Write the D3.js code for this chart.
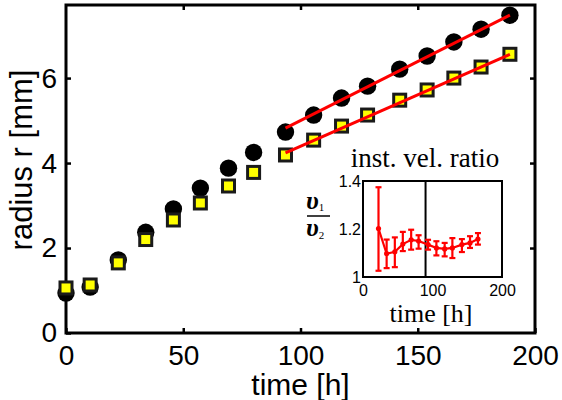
<!DOCTYPE html>
<html>
<head>
<meta charset="utf-8">
<script src="https://cdn.jsdelivr.net/npm/d3@7"></script>
<style>
body { margin: 0; background: #fff; }
svg { display: block; }
</style>
</head>
<body>
<script>
// growth data
var timeH = [0, 10.3, 22.3, 34, 45.8, 57.3, 69.3, 80, 93.6, 105.6, 117.5, 128.6, 142.3, 154, 165.4, 177, 189.3];
var radiusCircle = [0.94, 1.08, 1.72, 2.37, 2.92, 3.41, 3.88, 4.25, 4.73, 5.13, 5.53, 5.81, 6.21, 6.52, 6.85, 7.15, 7.48];
var radiusSquare = [1.06, 1.13, 1.65, 2.2, 2.66, 3.06, 3.46, 3.78, 4.19, 4.54, 4.87, 5.13, 5.48, 5.72, 6.0, 6.26, 6.56];

// linear fits (end points)
var fitTime = [93.6, 189.3];
var fitCircle = [4.82, 7.48];
var fitSquare = [4.24, 6.56];

// inset: instantaneous velocity ratio
var ratioTime = [22.3, 34, 45.8, 57.3, 69.3, 80, 93.6, 105.6, 117.5, 128.6, 142.3, 154, 165.4];
var ratio = [1.202, 1.097, 1.105, 1.137, 1.155, 1.150, 1.135, 1.121, 1.117, 1.121, 1.135, 1.142, 1.158];
var ratioHi = [1.374, 1.156, 1.165, 1.188, 1.197, 1.174, 1.155, 1.149, 1.142, 1.162, 1.158, 1.170, 1.183];
var ratioLo = [1.026, 1.037, 1.041, 1.108, 1.114, 1.118, 1.114, 1.090, 1.086, 1.079, 1.104, 1.121, 1.135];
var insetMarkT = 90;

// ticks
var xTicks = [0, 50, 100, 150, 200];
var yTicks = [0, 2, 4, 6];
var insetXTicks = [0, 100, 200];
var insetYTicks = [1, 1.2, 1.4];

var w = 562, h = 400;
var sans = "'Liberation Sans', Arial, sans-serif";
var serif = "'Liberation Serif', 'Times New Roman', serif";

var svg = d3.select("body").append("svg")
	.attr("width", w)
	.attr("height", h)
	.style("background", "#fff");

// main scales
var x = d3.scaleLinear().domain([0, 200]).range([66, 535]);
var y = d3.scaleLinear().domain([0, 7.72]).range([333, 5]);

// axes, ticks pointing inward
var xAxis = svg.append("g")
	.attr("transform", "translate(0," + y(0) + ")")
	.call(d3.axisBottom(x).tickValues(xTicks).tickSizeInner(-5).tickSizeOuter(0).tickPadding(12));
var xTop = svg.append("g")
	.attr("transform", "translate(0," + y(7.72) + ")")
	.call(d3.axisTop(x).tickValues([50, 100, 150]).tickSizeInner(-5).tickSizeOuter(0).tickFormat(""));
var yAxis = svg.append("g")
	.attr("transform", "translate(" + x(0) + ",0)")
	.call(d3.axisLeft(y).tickValues(yTicks).tickSizeInner(-5).tickSizeOuter(0).tickPadding(9));
var yRight = svg.append("g")
	.attr("transform", "translate(" + x(200) + ",0)")
	.call(d3.axisRight(y).tickValues([2, 4, 6]).tickSizeInner(-5).tickSizeOuter(0).tickFormat(""));

svg.selectAll(".domain").remove();
svg.selectAll(".tick line").attr("stroke", "#000").attr("stroke-width", 2.5);
svg.selectAll(".tick text")
	.attr("fill", "#000")
	.style("font-family", sans)
	.style("font-size", "28px");

// box round the plot
svg.append("rect")
	.attr("x", x(0))
	.attr("y", y(7.72))
	.attr("width", x(200) - x(0))
	.attr("height", y(0) - y(7.72))
	.attr("fill", "none")
	.attr("stroke", "#000")
	.attr("stroke-width", 3);

// axis labels
svg.append("text")
	.attr("x", (x(0) + x(200)) / 2)
	.attr("y", 395)
	.attr("text-anchor", "middle")
	.style("font-family", sans)
	.style("font-size", "30px")
	.text("time [h]");

svg.append("text")
	.attr("transform", "translate(32," + 160 + ") rotate(-90)")
	.attr("text-anchor", "middle")
	.style("font-family", sans)
	.style("font-size", "31px")
	.text("radius r [mm]");

// black circles
svg.selectAll(".dotC")
	.data(timeH)
	.enter()
	.append("circle")
	.attr("class", "dotC")
	.attr("cx", function(d){ return x(d); })
	.attr("cy", function(d, i){ return y(radiusCircle[i]); })
	.attr("r", 8.7)
	.attr("fill", "#000");

// yellow squares
var side = 12;
svg.selectAll(".dotS")
	.data(timeH)
	.enter()
	.append("rect")
	.attr("class", "dotS")
	.attr("x", function(d){ return x(d) - side / 2; })
	.attr("y", function(d, i){ return y(radiusSquare[i]) - side / 2; })
	.attr("width", side)
	.attr("height", side)
	.attr("fill", "#ffff00")
	.attr("stroke", "#1a1a1a")
	.attr("stroke-width", 3);

// red fit lines
var fitLine = d3.line()
	.x(function(d){ return x(d[0]); })
	.y(function(d){ return y(d[1]); });
[fitCircle, fitSquare].forEach(function(f){
	svg.append("path")
		.datum(d3.zip(fitTime, f))
		.attr("d", fitLine)
		.attr("fill", "none")
		.attr("stroke", "#ff0000")
		.attr("stroke-width", 3);
});

// ---- inset ----
var ix = d3.scaleLinear().domain([0, 200]).range([363, 502]);
var iy = d3.scaleLinear().domain([1, 1.4]).range([277, 181]);

svg.append("rect")
	.attr("x", ix(0))
	.attr("y", iy(1.4))
	.attr("width", ix(200) - ix(0))
	.attr("height", iy(1) - iy(1.4))
	.attr("fill", "#fff")
	.attr("stroke", "#000")
	.attr("stroke-width", 2);

svg.append("line")
	.attr("x1", ix(insetMarkT))
	.attr("x2", ix(insetMarkT))
	.attr("y1", iy(1))
	.attr("y2", iy(1.4))
	.attr("stroke", "#000")
	.attr("stroke-width", 2);

var ixAxis = svg.append("g")
	.attr("class", "inset")
	.attr("transform", "translate(0," + iy(1) + ")")
	.call(d3.axisBottom(ix).tickValues(insetXTicks).tickSize(0).tickPadding(8));
var iyAxis = svg.append("g")
	.attr("class", "inset")
	.attr("transform", "translate(" + ix(0) + ",0)")
	.call(d3.axisLeft(iy).tickValues(insetYTicks).tickSize(0).tickPadding(2)
		.tickFormat(function(d){ return d === 1 ? "1" : d3.format(".1f")(d); }));
svg.selectAll(".inset .domain").remove();
svg.selectAll(".inset .tick text")
	.attr("fill", "#000")
	.style("font-family", sans)
	.style("font-size", "16px");

// error bars
var errG = svg.append("g").attr("stroke", "#ff0000").attr("stroke-width", 2.2);
errG.selectAll(".eb")
	.data(ratioTime)
	.enter()
	.append("line")
	.attr("x1", function(d){ return ix(d); })
	.attr("x2", function(d){ return ix(d); })
	.attr("y1", function(d, i){ return iy(ratioLo[i]); })
	.attr("y2", function(d, i){ return iy(ratioHi[i]); });
[ratioLo, ratioHi].forEach(function(arr){
	errG.selectAll(null)
		.data(ratioTime)
		.enter()
		.append("line")
		.attr("x1", function(d){ return ix(d) - 3; })
		.attr("x2", function(d){ return ix(d) + 3; })
		.attr("y1", function(d, i){ return iy(arr[i]); })
		.attr("y2", function(d, i){ return iy(arr[i]); });
});

var ratioLine = d3.line()
	.x(function(d){ return ix(d[0]); })
	.y(function(d){ return iy(d[1]); });
svg.append("path")
	.datum(d3.zip(ratioTime, ratio))
	.attr("d", ratioLine)
	.attr("fill", "none")
	.attr("stroke", "#ff0000")
	.attr("stroke-width", 2.2);
svg.selectAll(".rdot")
	.data(ratioTime)
	.enter()
	.append("circle")
	.attr("class", "rdot")
	.attr("cx", function(d){ return ix(d); })
	.attr("cy", function(d, i){ return iy(ratio[i]); })
	.attr("r", 2.6)
	.attr("fill", "#ff0000");

// inset texts
svg.append("text")
	.attr("x", 425)
	.attr("y", 167)
	.attr("text-anchor", "middle")
	.style("font-family", serif)
	.style("font-size", "27px")
	.text("inst. vel. ratio");

svg.append("text")
	.attr("x", 431)
	.attr("y", 322)
	.attr("text-anchor", "middle")
	.style("font-family", serif)
	.style("font-size", "26px")
	.text("time [h]");

// v1 / v2 label
var frac = svg.append("g").style("font-family", serif);
var num = frac.append("text").attr("x", 306).attr("y", 209).style("font-size", "26px")
	.style("font-style", "italic").style("font-weight", "bold");
num.append("tspan").text("\u03c5");
num.append("tspan").attr("dy", 2).style("font-size", "11px").style("font-style", "normal")
	.style("font-weight", "normal").text("1");
frac.append("line")
	.attr("x1", 307).attr("x2", 330)
	.attr("y1", 216).attr("y2", 216)
	.attr("stroke", "#000").attr("stroke-width", 1.5);
var den = frac.append("text").attr("x", 306).attr("y", 236).style("font-size", "26px")
	.style("font-style", "italic").style("font-weight", "bold");
den.append("tspan").text("\u03c5");
den.append("tspan").attr("dy", 3).style("font-size", "11px").style("font-style", "normal")
	.style("font-weight", "normal").text("2");
</script>
</body>
</html>
